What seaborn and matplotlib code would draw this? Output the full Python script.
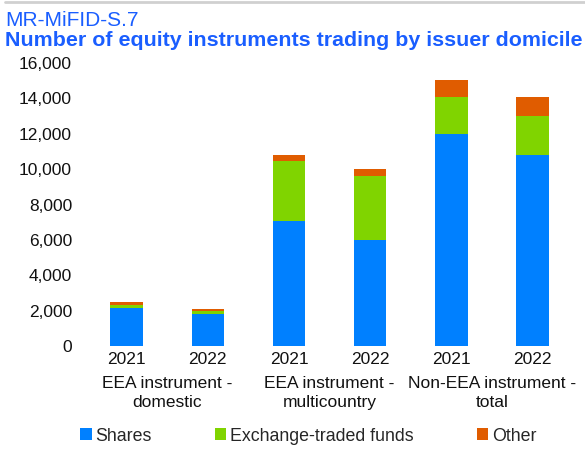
import matplotlib
matplotlib.use("Agg")
import matplotlib.pyplot as plt
import seaborn as sns
import pandas as pd
import numpy as np
from matplotlib.lines import Line2D
from matplotlib.patches import Patch
from matplotlib.ticker import FuncFormatter

groups = ["EEA instrument -\ndomestic", "EEA instrument -\nmulticountry", "Non-EEA instrument -\ntotal"]
years = ["2021", "2022"]
shares = [2150, 1820, 7050, 6000, 12000, 10800]
etfs = [170, 140, 3400, 3600, 2050, 2200]
other = [150, 150, 350, 400, 1000, 1050]
series_names = ["Shares", "Exchange-traded funds", "Other"]
colors = ["#0080FF", "#80D400", "#E05C00"]

sns.set_theme(style="white")
plt.rcParams["font.family"] = ["Liberation Sans", "DejaVu Sans"]

keys = [f"{g}|{y}" for g in groups for y in years]
df = pd.DataFrame({"key": keys, "Shares": shares, "ETF": etfs, "Other": other})
df["b2"] = df["Shares"] + df["ETF"]

fig = plt.figure(figsize=(5.85, 4.5), dpi=100)
ax = fig.add_axes([0.147, 0.231, 0.833, 0.629])

sns.barplot(data=df, x="key", y="Shares", color=colors[0], width=0.4, ax=ax,
            saturation=1, linewidth=0)
sns.barplot(data=df, x="key", y="ETF", color=colors[1], width=0.4, ax=ax,
            saturation=1, linewidth=0, bottom=df["Shares"])
sns.barplot(data=df, x="key", y="Other", color=colors[2], width=0.4, ax=ax,
            saturation=1, linewidth=0, bottom=df["b2"])

ax.set_xlim(-0.5, 5.5)
ax.set_ylim(0, 16000)
ax.set_yticks(np.arange(0, 16001, 2000))
ax.yaxis.set_major_formatter(FuncFormatter(lambda v, p: f"{int(v):,}"))
ax.set_xticks(range(6))
ax.set_xticklabels(years * 3)
ax.tick_params(axis="both", labelsize=12.5, colors="#111111", length=0)
ax.tick_params(axis="y", pad=10)
ax.tick_params(axis="x", pad=4)
ax.set_xlabel("")
ax.set_ylabel("")
for s in ax.spines.values():
    s.set_visible(False)

for i, g in enumerate(groups):
    ax.text(2 * i + 0.5, -0.105, g, transform=ax.get_xaxis_transform(),
            ha="center", va="top", fontsize=12.5, color="#111111", linespacing=1.35)

fig.text(0.009, 0.975, "MR-MiFID-S.7", color="#1A5EFF", fontsize=15, va="top", ha="left")
fig.text(0.009, 0.93, "Number of equity instruments trading by issuer domicile",
         color="#1A5EFF", fontsize=15.4, fontweight="bold", va="top", ha="left")
fig.add_artist(Line2D([0.009, 1.0], [0.995, 0.995], color="#D0D0D0", lw=2,
                      transform=fig.transFigure))

handles = [Patch(facecolor=c, edgecolor="none") for c in colors]
fig.legend(handles, series_names, loc="center", bbox_to_anchor=(0.527, 0.031),
           ncol=3, frameon=False, fontsize=12.8, handlelength=0.65, handleheight=0.65,
           handletextpad=0.2, columnspacing=3.55)

fig.savefig("out.png", dpi=100)
